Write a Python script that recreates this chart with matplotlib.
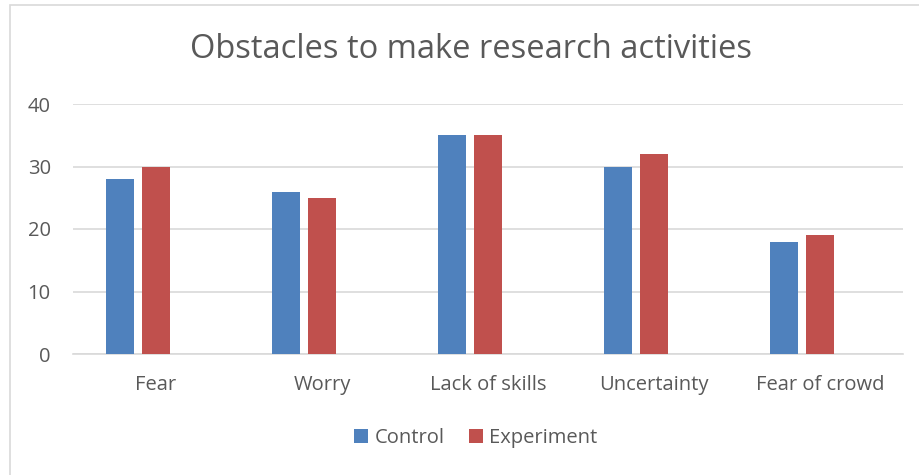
import matplotlib.pyplot as plt
import matplotlib.patches as patches
import numpy as np

categories = ['Fear', 'Worry', 'Lack of skills', 'Uncertainty', 'Fear of crowd']
control = [28, 26, 35, 30, 18]
experiment = [30, 25, 35, 32, 19]

plt.rcParams['font.family'] = ['Open Sans', 'DejaVu Sans']
text_color = '#595959'

fig = plt.figure(figsize=(9.2, 4.75), dpi=100)
ax = fig.add_axes([73 / 920, 1 - 354 / 475, 830 / 920, 250 / 475])

# chart frame (only left and top edges visible in the crop)
fig.add_artist(patches.Rectangle((10 / 920, -0.1), 1.2, 1 - 5 / 475 + 0.1,
                                 transform=fig.transFigure, fill=False,
                                 edgecolor='#d9d9d9', linewidth=1.2))

# three bar slots per category (third one empty), so bars sit left of the label
x = np.arange(len(categories))
w = 0.17
step = 0.217
ax.bar(x - step, control, w, color='#4F81BD', label='Control', zorder=3)
ax.bar(x, experiment, w, color='#C0504D', label='Experiment', zorder=3)

ax.set_xlim(-0.5, len(categories) - 0.5)
ax.set_ylim(0, 40)
ax.set_yticks([0, 10, 20, 30, 40])
ax.set_xticks(x)
ax.set_xticklabels(categories)
ax.grid(axis='y', color='#d9d9d9', linewidth=1.2, zorder=0)
for s in ['top', 'right', 'left']:
    ax.spines[s].set_visible(False)
ax.spines['bottom'].set_color('#d9d9d9')
ax.spines['bottom'].set_linewidth(1.2)
ax.tick_params(length=0, labelsize=14.5, colors=text_color)
ax.tick_params(axis='x', pad=15)
ax.tick_params(axis='y', pad=16)

fig.text(0.512, 1 - 50 / 475, 'Obstacles to make research activities',
         ha='center', va='center', fontsize=23.5, color=text_color)

fig.legend(loc='center', bbox_to_anchor=(0.517, 1 - 438 / 475), ncol=2,
           frameon=False, fontsize=14.5, labelcolor=text_color,
           handlelength=0.7, handleheight=0.7, handletextpad=0.3,
           columnspacing=1.2)

fig.savefig('out.png', dpi=100)
